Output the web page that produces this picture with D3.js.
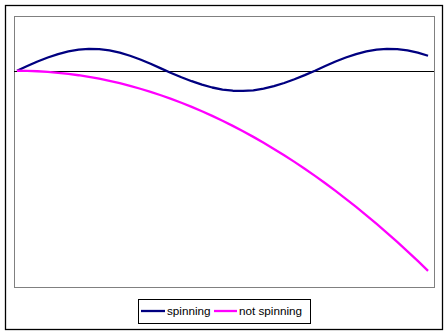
<!DOCTYPE html>
<html>
<head>
<meta charset="utf-8">
<script src="https://cdn.jsdelivr.net/npm/d3@7/dist/d3.min.js"></script>
<style>
  html, body { margin: 0; padding: 0; background: #fff; }
  svg { display: block; }
</style>
</head>
<body>
<svg id="chart" width="448" height="335"></svg>
<script>
// ---- data ----
const steps = d3.range(0, 41); // 0..40
const spinning = [0, 0.086, 0.168, 0.242, 0.305, 0.353, 0.385, 0.399, 0.395, 0.372,
  0.331, 0.274, 0.206, 0.128, 0.043, -0.040, -0.118, -0.191, -0.254, -0.306,
  -0.344, -0.365, -0.369, -0.357, -0.327, -0.282, -0.224, -0.155, -0.080, 0,
  0.086, 0.168, 0.242, 0.305, 0.353, 0.385, 0.399, 0.395, 0.372, 0.331, 0.274];
const notSpinning = [0, -0.002, -0.009, -0.021, -0.037, -0.057, -0.082, -0.112, -0.146, -0.185,
  -0.228, -0.276, -0.329, -0.386, -0.448, -0.514, -0.585, -0.660, -0.740, -0.825,
  -0.914, -1.007, -1.105, -1.208, -1.316, -1.428, -1.544, -1.665, -1.791, -1.921,
  -2.056, -2.195, -2.339, -2.487, -2.640, -2.798, -2.960, -3.127, -3.298, -3.474, -3.654];
const seriesNames = ["spinning", "not spinning"];
const seriesColors = ["#000080", "#ff00ff"];

const svg = d3.select("#chart");

// outer chart border
svg.append("rect").attr("x", 5.5).attr("y", 5.5).attr("width", 437).attr("height", 324)
  .attr("fill", "#fff").attr("stroke", "#000").attr("stroke-width", 1.3);

const plot = { left: 14, top: 16, right: 434, bottom: 287 };

const x = d3.scaleLinear().domain([-0.29, 40.58]).range([plot.left, plot.right]);
const y = d3.scaleLinear().domain([-3.95, 1]).range([plot.bottom, plot.top]);

// plot area
svg.append("rect").attr("x", plot.left + 0.5).attr("y", plot.top + 0.5)
  .attr("width", plot.right - plot.left).attr("height", plot.bottom - plot.top)
  .attr("fill", "#fff").attr("stroke", "#808080").attr("stroke-width", 1);

// zero axis line
svg.append("line")
  .attr("x1", plot.left).attr("x2", plot.right)
  .attr("y1", Math.round(y(0)) + 0.5).attr("y2", Math.round(y(0)) + 0.5)
  .attr("stroke", "#000").attr("stroke-width", 1);

const line = d3.line().x((d, i) => x(steps[i])).y(d => y(d));

[spinning, notSpinning].forEach((s, k) => {
  svg.append("path").datum(s)
    .attr("d", line)
    .attr("fill", "none")
    .attr("stroke", seriesColors[k])
    .attr("stroke-width", 2.3)
    .attr("stroke-linejoin", "round");
});

// legend
const lg = svg.append("g");
lg.append("rect").attr("x", 138.5).attr("y", 299.5).attr("width", 172).attr("height", 24)
  .attr("fill", "#fff").attr("stroke", "#000").attr("stroke-width", 1);
const items = [
  { x1: 141, x2: 165, tx: 167 },
  { x1: 214, x2: 237, tx: 239 }
];
items.forEach((it, k) => {
  lg.append("line").attr("x1", it.x1).attr("x2", it.x2).attr("y1", 311).attr("y2", 311)
    .attr("stroke", seriesColors[k]).attr("stroke-width", 2.3);
  lg.append("text").attr("x", it.tx).attr("y", 315)
    .attr("font-family", "Liberation Sans, Arial, sans-serif")
    .attr("font-size", 11.7).attr("fill", "#000")
    .text(seriesNames[k]);
});
</script>
</body>
</html>
